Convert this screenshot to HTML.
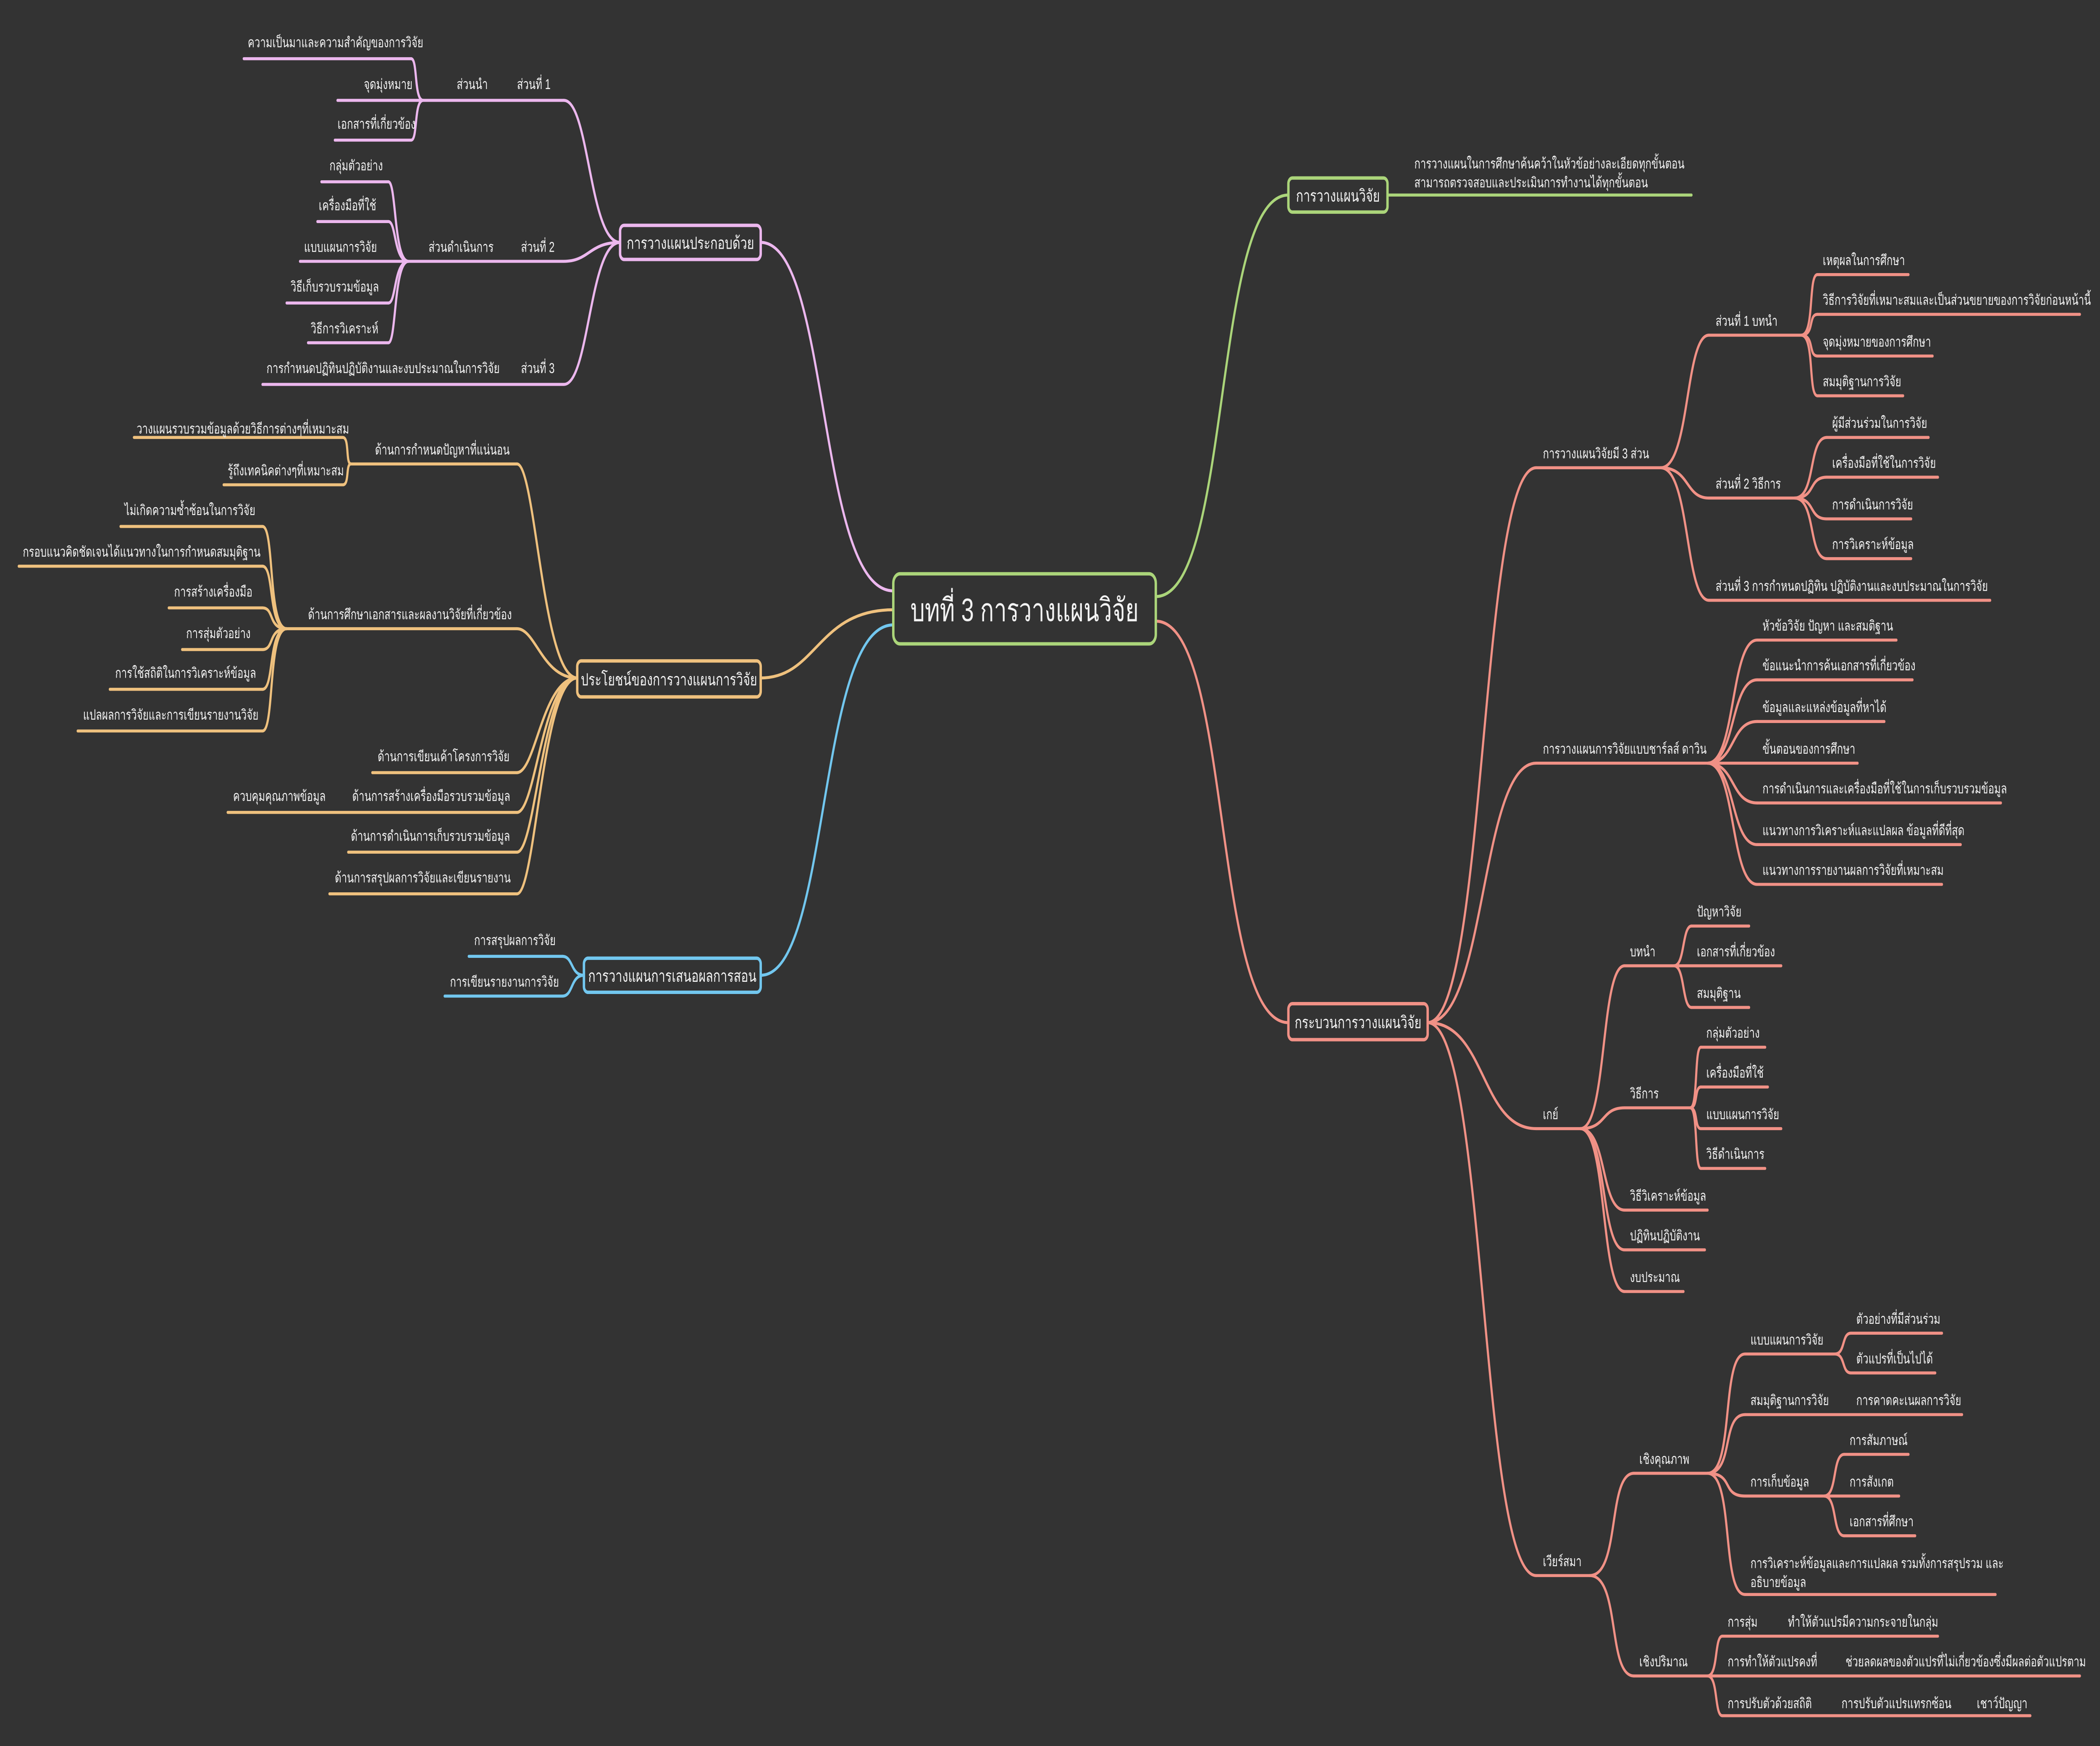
<!DOCTYPE html>
<html><head><meta charset="utf-8"><style>
html,body{margin:0;padding:0;background:#333333;overflow:hidden;width:100%;height:100%;}
svg{display:block;width:100vw;height:100vh;}
text{font-family:"Liberation Sans","DejaVu Sans",sans-serif;fill:#f2f2f2;font-size:7.5px;}
.p{stroke:#ecb7ee;} .o{stroke:#efc17e;} .b{stroke:#72c7ef;} .g{stroke:#abd57a;} .r{stroke:#f19186;}
path{fill:none;stroke-width:1.6;stroke-linecap:round;}
.box{fill:#333333;stroke-width:1.8;}
.bt{font-size:9px;}
</style></head><body>
<svg viewBox="0 0 1568 922" preserveAspectRatio="none" xmlns="http://www.w3.org/2000/svg">
<rect width="1568" height="922" fill="#333333"/>

<path class="p" stroke-width="2" d="M667 312 C610 312 620 128 568 128"/>
<path class="o" stroke-width="2" d="M667 322 C610 322 610 358 568 358"/>
<path class="b" stroke-width="2" d="M667 330 C610 330 620 515 568 515"/>
<path class="g" stroke-width="2" d="M863 315 C920 315 905 103 962 103"/>
<path class="r" stroke-width="2" d="M863 328 C920 328 905 540 962 540"/>

<rect x="667" y="303" width="196" height="37" rx="5" class="box" stroke="#abd57a" stroke-width="2.2"/>
<text x="765" y="328" text-anchor="middle" style="font-size:17px">บทที่ 3 การวางแผนวิจัย</text>

<g class="p">
<path d="M463 128 C440 128 440 53 421 53"/>
<path d="M463 128 C440 128 440 138 421 138"/>
<path d="M463 128 C440 128 440 203 421 203"/>
<path d="M316 53 H421"/><path d="M305 138 H421"/><path d="M196 203 H421"/>
<path d="M316 53 C309 53 312 31 307 31"/><path d="M182 31 H307"/>
<path d="M252 53 H316"/>
<path d="M316 53 C309 53 312 74 307 74"/><path d="M250 74 H307"/>
<path d="M305 138 C294 138 296 96 290 96"/><path d="M240 96 H290"/>
<path d="M305 138 C294 138 296 117 290 117"/><path d="M237 117 H290"/>
<path d="M224 138 H305"/>
<path d="M305 138 C294 138 296 160 290 160"/><path d="M214 160 H290"/>
<path d="M305 138 C294 138 296 181 290 181"/><path d="M230 181 H290"/>
</g>
<rect x="463" y="119" width="105" height="18" rx="3" class="box p"/>
<text x="515.5" y="131.5" text-anchor="middle" class="bt">การวางแผนประกอบด้วย</text>
<text x="341" y="47">ส่วนนำ</text><text x="386" y="47">ส่วนที่ 1</text>
<text x="185" y="25">ความเป็นมาและความสำคัญของการวิจัย</text>
<text x="308" y="47" text-anchor="end">จุดมุ่งหมาย</text>
<text x="252" y="68">เอกสารที่เกี่ยวข้อง</text>
<text x="320" y="133">ส่วนดำเนินการ</text><text x="389" y="133">ส่วนที่ 2</text>
<text x="246" y="90">กลุ่มตัวอย่าง</text>
<text x="238" y="111">เครื่องมือที่ใช้</text>
<text x="227" y="133">แบบแผนการวิจัย</text>
<text x="217" y="154">วิธีเก็บรวบรวมข้อมูล</text>
<text x="232" y="176">วิธีการวิเคราะห์</text>
<text x="199" y="197">การกำหนดปฏิทินปฏิบัติงานและงบประมาณในการวิจัย</text><text x="389" y="197">ส่วนที่ 3</text>

<g class="o">
<path d="M431 358 C405 358 400 245 386 245"/>
<path d="M431 358 C405 358 400 332 386 332"/>
<path d="M431 358 C405 358 400 408 386 408"/>
<path d="M431 358 C405 358 400 429 386 429"/>
<path d="M431 358 C405 358 400 450 386 450"/>
<path d="M431 358 C405 358 400 472 386 472"/>
<path d="M262 245 H386"/><path d="M214 332 H386"/><path d="M278 408 H386"/><path d="M170 429 H386"/><path d="M260 450 H386"/><path d="M246 472 H386"/>
<path d="M262 245 C258 245 261 231 256 231"/><path d="M100 231 H256"/>
<path d="M262 245 C258 245 261 256 256 256"/><path d="M167 256 H256"/>
<path d="M214 332 C200 332 205 278 196 278"/><path d="M90 278 H196"/>
<path d="M214 332 C200 332 205 299 196 299"/><path d="M14 299 H196"/>
<path d="M214 332 C200 332 205 321 196 321"/><path d="M126 321 H196"/>
<path d="M214 332 C200 332 205 343 196 343"/><path d="M136 343 H196"/>
<path d="M214 332 C200 332 205 364 196 364"/><path d="M82 364 H196"/>
<path d="M214 332 C200 332 205 386 196 386"/><path d="M58 386 H196"/>
</g>
<rect x="431" y="349" width="137" height="19" rx="3" class="box o"/>
<text x="499.5" y="362" text-anchor="middle" class="bt">ประโยชน์ของการวางแผนการวิจัย</text>
<text x="280" y="240">ด้านการกำหนดปัญหาที่แน่นอน</text>
<text x="102" y="229">วางแผนรวบรวมข้อมูลด้วยวิธีการต่างๆที่เหมาะสม</text>
<text x="170" y="251">รู้ถึงเทคนิคต่างๆที่เหมาะสม</text>
<text x="230" y="327">ด้านการศึกษาเอกสารและผลงานวิจัยที่เกี่ยวข้อง</text>
<text x="93" y="272">ไม่เกิดความซ้ำซ้อนในการวิจัย</text>
<text x="17" y="294">กรอบแนวคิดชัดเจนได้แนวทางในการกำหนดสมมุติฐาน</text>
<text x="130" y="315">การสร้างเครื่องมือ</text>
<text x="139" y="337">การสุ่มตัวอย่าง</text>
<text x="86" y="358">การใช้สถิติในการวิเคราะห์ข้อมูล</text>
<text x="62" y="380">แปลผลการวิจัยและการเขียนรายงานวิจัย</text>
<text x="282" y="402">ด้านการเขียนเค้าโครงการวิจัย</text>
<text x="263" y="423">ด้านการสร้างเครื่องมือรวบรวมข้อมูล</text>
<text x="174" y="423">ควบคุมคุณภาพข้อมูล</text>
<text x="262" y="444">ด้านการดำเนินการเก็บรวบรวมข้อมูล</text>
<text x="250" y="466">ด้านการสรุปผลการวิจัยและเขียนรายงาน</text>

<g class="b">
<path d="M436 515 C426 515 428 505 420 505"/><path d="M350 505 H420"/>
<path d="M436 515 C426 515 428 526 420 526"/><path d="M332 526 H420"/>
</g>
<rect x="436" y="506" width="132" height="18" rx="3" class="box b"/>
<text x="502" y="518.5" text-anchor="middle" class="bt">การวางแผนการเสนอผลการสอน</text>
<text x="354" y="499">การสรุปผลการวิจัย</text>
<text x="336" y="521">การเขียนรายงานการวิจัย</text>

<path class="g" d="M1036 103 H1263"/>
<rect x="962" y="94" width="74" height="18" rx="3" class="box g"/>
<text x="999" y="106.5" text-anchor="middle" class="bt">การวางแผนวิจัย</text>
<text x="1056" y="89">การวางแผนในการศึกษาค้นคว้าในหัวข้อย่างละเอียดทุกขั้นตอน</text>
<text x="1056" y="99">สามารถตรวจสอบและประเมินการทำงานได้ทุกขั้นตอน</text>

<g class="r">
<path d="M1066 540 C1110 540 1105 247 1147 247"/>
<path d="M1066 540 C1110 540 1105 403 1147 403"/>
<path d="M1066 540 C1110 540 1105 596 1147 596"/>
<path d="M1066 540 C1110 540 1105 832 1147 832"/>
<path d="M1147 247 H1240"/><path d="M1147 403 H1275"/><path d="M1147 596 H1180"/><path d="M1147 832 H1187"/>
<path d="M1240 247 C1262 247 1258 177 1276 177"/><path d="M1276 177 H1345"/>
<path d="M1240 247 C1262 247 1258 263 1276 263"/><path d="M1276 263 H1340"/>
<path d="M1240 247 C1262 247 1258 317 1276 317"/><path d="M1276 317 H1486"/>
<path d="M1345 177 C1355 177 1350 145 1357 145"/><path d="M1357 145 H1425"/>
<path d="M1345 177 C1355 177 1350 166 1357 166"/><path d="M1357 166 H1553"/>
<path d="M1345 177 C1355 177 1350 188 1357 188"/><path d="M1357 188 H1443"/>
<path d="M1345 177 C1355 177 1350 209 1357 209"/><path d="M1357 209 H1421"/>
<path d="M1340 263 C1356 263 1350 231 1364 231"/><path d="M1364 231 H1440"/>
<path d="M1340 263 C1356 263 1350 252 1364 252"/><path d="M1364 252 H1447"/>
<path d="M1340 263 C1356 263 1350 274 1364 274"/><path d="M1364 274 H1427"/>
<path d="M1340 263 C1356 263 1350 295 1364 295"/><path d="M1364 295 H1427"/>
<path d="M1275 403 C1296 403 1292 338 1312 338"/><path d="M1312 338 H1416"/>
<path d="M1275 403 C1296 403 1292 359 1312 359"/><path d="M1312 359 H1428"/>
<path d="M1275 403 C1296 403 1292 381 1312 381"/><path d="M1312 381 H1407"/>
<path d="M1275 403 H1387"/>
<path d="M1275 403 C1296 403 1292 424 1312 424"/><path d="M1312 424 H1494"/>
<path d="M1275 403 C1296 403 1292 446 1312 446"/><path d="M1312 446 H1464"/>
<path d="M1275 403 C1296 403 1292 467 1312 467"/><path d="M1312 467 H1450"/>
<path d="M1180 596 C1200 596 1195 510 1213 510"/><path d="M1213 510 H1250"/>
<path d="M1180 596 C1200 596 1195 585 1213 585"/><path d="M1213 585 H1262"/>
<path d="M1180 596 C1200 596 1195 639 1213 639"/><path d="M1213 639 H1275"/>
<path d="M1180 596 C1200 596 1195 660 1213 660"/><path d="M1213 660 H1273"/>
<path d="M1180 596 C1200 596 1195 682 1213 682"/><path d="M1213 682 H1257"/>
<path d="M1250 510 C1258 510 1256 489 1263 489"/><path d="M1263 489 H1306"/>
<path d="M1250 510 H1330"/>
<path d="M1250 510 C1258 510 1256 532 1263 532"/><path d="M1263 532 H1306"/>
<path d="M1262 585 C1268 585 1265 553 1270 553"/><path d="M1270 553 H1318"/>
<path d="M1262 585 C1268 585 1265 574 1270 574"/><path d="M1270 574 H1320"/>
<path d="M1262 585 C1268 585 1265 596 1270 596"/><path d="M1270 596 H1330"/>
<path d="M1262 585 C1268 585 1265 617 1270 617"/><path d="M1270 617 H1318"/>
<path d="M1187 832 C1210 832 1200 778 1220 778"/><path d="M1220 778 H1275"/>
<path d="M1187 832 C1210 832 1200 885 1220 885"/><path d="M1220 885 H1275"/>
<path d="M1275 778 C1295 778 1285 715 1303 715"/><path d="M1303 715 H1370"/>
<path d="M1275 778 C1295 778 1285 747 1303 747"/><path d="M1303 747 H1465"/>
<path d="M1275 778 C1295 778 1285 790 1303 790"/><path d="M1303 790 H1362"/>
<path d="M1275 778 C1295 778 1285 842 1303 842"/><path d="M1303 842 H1490"/>
<path d="M1370 715 C1378 715 1375 704 1382 704"/><path d="M1382 704 H1450"/>
<path d="M1370 715 C1378 715 1375 725 1382 725"/><path d="M1382 725 H1445"/>
<path d="M1362 790 C1372 790 1368 768 1377 768"/><path d="M1377 768 H1425"/>
<path d="M1362 790 H1418"/>
<path d="M1362 790 C1372 790 1368 811 1377 811"/><path d="M1377 811 H1430"/>
<path d="M1275 885 C1283 885 1280 864 1286 864"/><path d="M1286 864 H1447"/>
<path d="M1275 885 H1553"/>
<path d="M1275 885 C1283 885 1280 906 1286 906"/><path d="M1286 906 H1516"/>
</g>
<rect x="962" y="530" width="104" height="19" rx="3" class="box r"/>
<text x="1014" y="543" text-anchor="middle" class="bt">กระบวนการวางแผนวิจัย</text>

<text x="1152" y="242">การวางแผนวิจัยมี 3 ส่วน</text>
<text x="1281" y="172">ส่วนที่ 1 บทนำ</text>
<text x="1361" y="140">เหตุผลในการศึกษา</text>
<text x="1361" y="161">วิธีการวิจัยที่เหมาะสมและเป็นส่วนขยายของการวิจัยก่อนหน้านี้</text>
<text x="1361" y="183">จุดมุ่งหมายของการศึกษา</text>
<text x="1361" y="204">สมมุติฐานการวิจัย</text>
<text x="1281" y="258">ส่วนที่ 2 วิธีการ</text>
<text x="1368" y="226">ผู้มีส่วนร่วมในการวิจัย</text>
<text x="1368" y="247">เครื่องมือที่ใช้ในการวิจัย</text>
<text x="1368" y="269">การดำเนินการวิจัย</text>
<text x="1368" y="290">การวิเคราะห์ข้อมูล</text>
<text x="1281" y="312">ส่วนที่ 3 การกำหนดปฏิทิน ปฏิบัติงานและงบประมาณในการวิจัย</text>

<text x="1152" y="398">การวางแผนการวิจัยแบบชาร์ลส์ ดาวิน</text>
<text x="1316" y="333">หัวข้อวิจัย ปัญหา และสมติฐาน</text>
<text x="1316" y="354">ข้อแนะนำการค้นเอกสารที่เกี่ยวข้อง</text>
<text x="1316" y="376">ข้อมูลและแหล่งข้อมูลที่หาได้</text>
<text x="1316" y="398">ขั้นตอนของการศึกษา</text>
<text x="1316" y="419">การดำเนินการและเครื่องมือที่ใช้ในการเก็บรวบรวมข้อมูล</text>
<text x="1316" y="441">แนวทางการวิเคราะห์และแปลผล ข้อมูลที่ดีที่สุด</text>
<text x="1316" y="462">แนวทางการรายงานผลการวิจัยที่เหมาะสม</text>

<text x="1152" y="591">เกย์</text>
<text x="1217" y="505">บทนำ</text>
<text x="1267" y="484">ปัญหาวิจัย</text>
<text x="1267" y="505">เอกสารที่เกี่ยวข้อง</text>
<text x="1267" y="527">สมมุติฐาน</text>
<text x="1217" y="580">วิธีการ</text>
<text x="1274" y="548">กลุ่มตัวอย่าง</text>
<text x="1274" y="569">เครื่องมือที่ใช้</text>
<text x="1274" y="591">แบบแผนการวิจัย</text>
<text x="1274" y="612">วิธีดำเนินการ</text>
<text x="1217" y="634">วิธีวิเคราะห์ข้อมูล</text>
<text x="1217" y="655">ปฏิทินปฏิบัติงาน</text>
<text x="1217" y="677">งบประมาณ</text>

<text x="1152" y="827">เวียร์สมา</text>
<text x="1224" y="773">เชิงคุณภาพ</text>
<text x="1307" y="710">แบบแผนการวิจัย</text>
<text x="1386" y="699">ตัวอย่างที่มีส่วนร่วม</text>
<text x="1386" y="720">ตัวแปรที่เป็นไปได้</text>
<text x="1307" y="742">สมมุติฐานการวิจัย</text>
<text x="1386" y="742">การคาดคะเนผลการวิจัย</text>
<text x="1307" y="785">การเก็บข้อมูล</text>
<text x="1381" y="763">การสัมภาษณ์</text>
<text x="1381" y="785">การสังเกต</text>
<text x="1381" y="806">เอกสารที่ศึกษา</text>
<text x="1307" y="828">การวิเคราะห์ข้อมูลและการแปลผล รวมทั้งการสรุปรวม และ</text>
<text x="1307" y="838">อธิบายข้อมูล</text>
<text x="1224" y="880">เชิงปริมาณ</text>
<text x="1290" y="859">การสุ่ม</text>
<text x="1335" y="859">ทำให้ตัวแปรมีความกระจายในกลุ่ม</text>
<text x="1290" y="880">การทำให้ตัวแปรคงที่</text>
<text x="1378" y="880">ช่วยลดผลของตัวแปรที่ไม่เกี่ยวข้องซึ่งมีผลต่อตัวแปรตาม</text>
<text x="1290" y="902">การปรับตัวด้วยสถิติ</text>
<text x="1375" y="902">การปรับตัวแปรแทรกซ้อน</text>
<text x="1476" y="902">เชาว์ปัญญา</text>
</svg>
</body></html>
